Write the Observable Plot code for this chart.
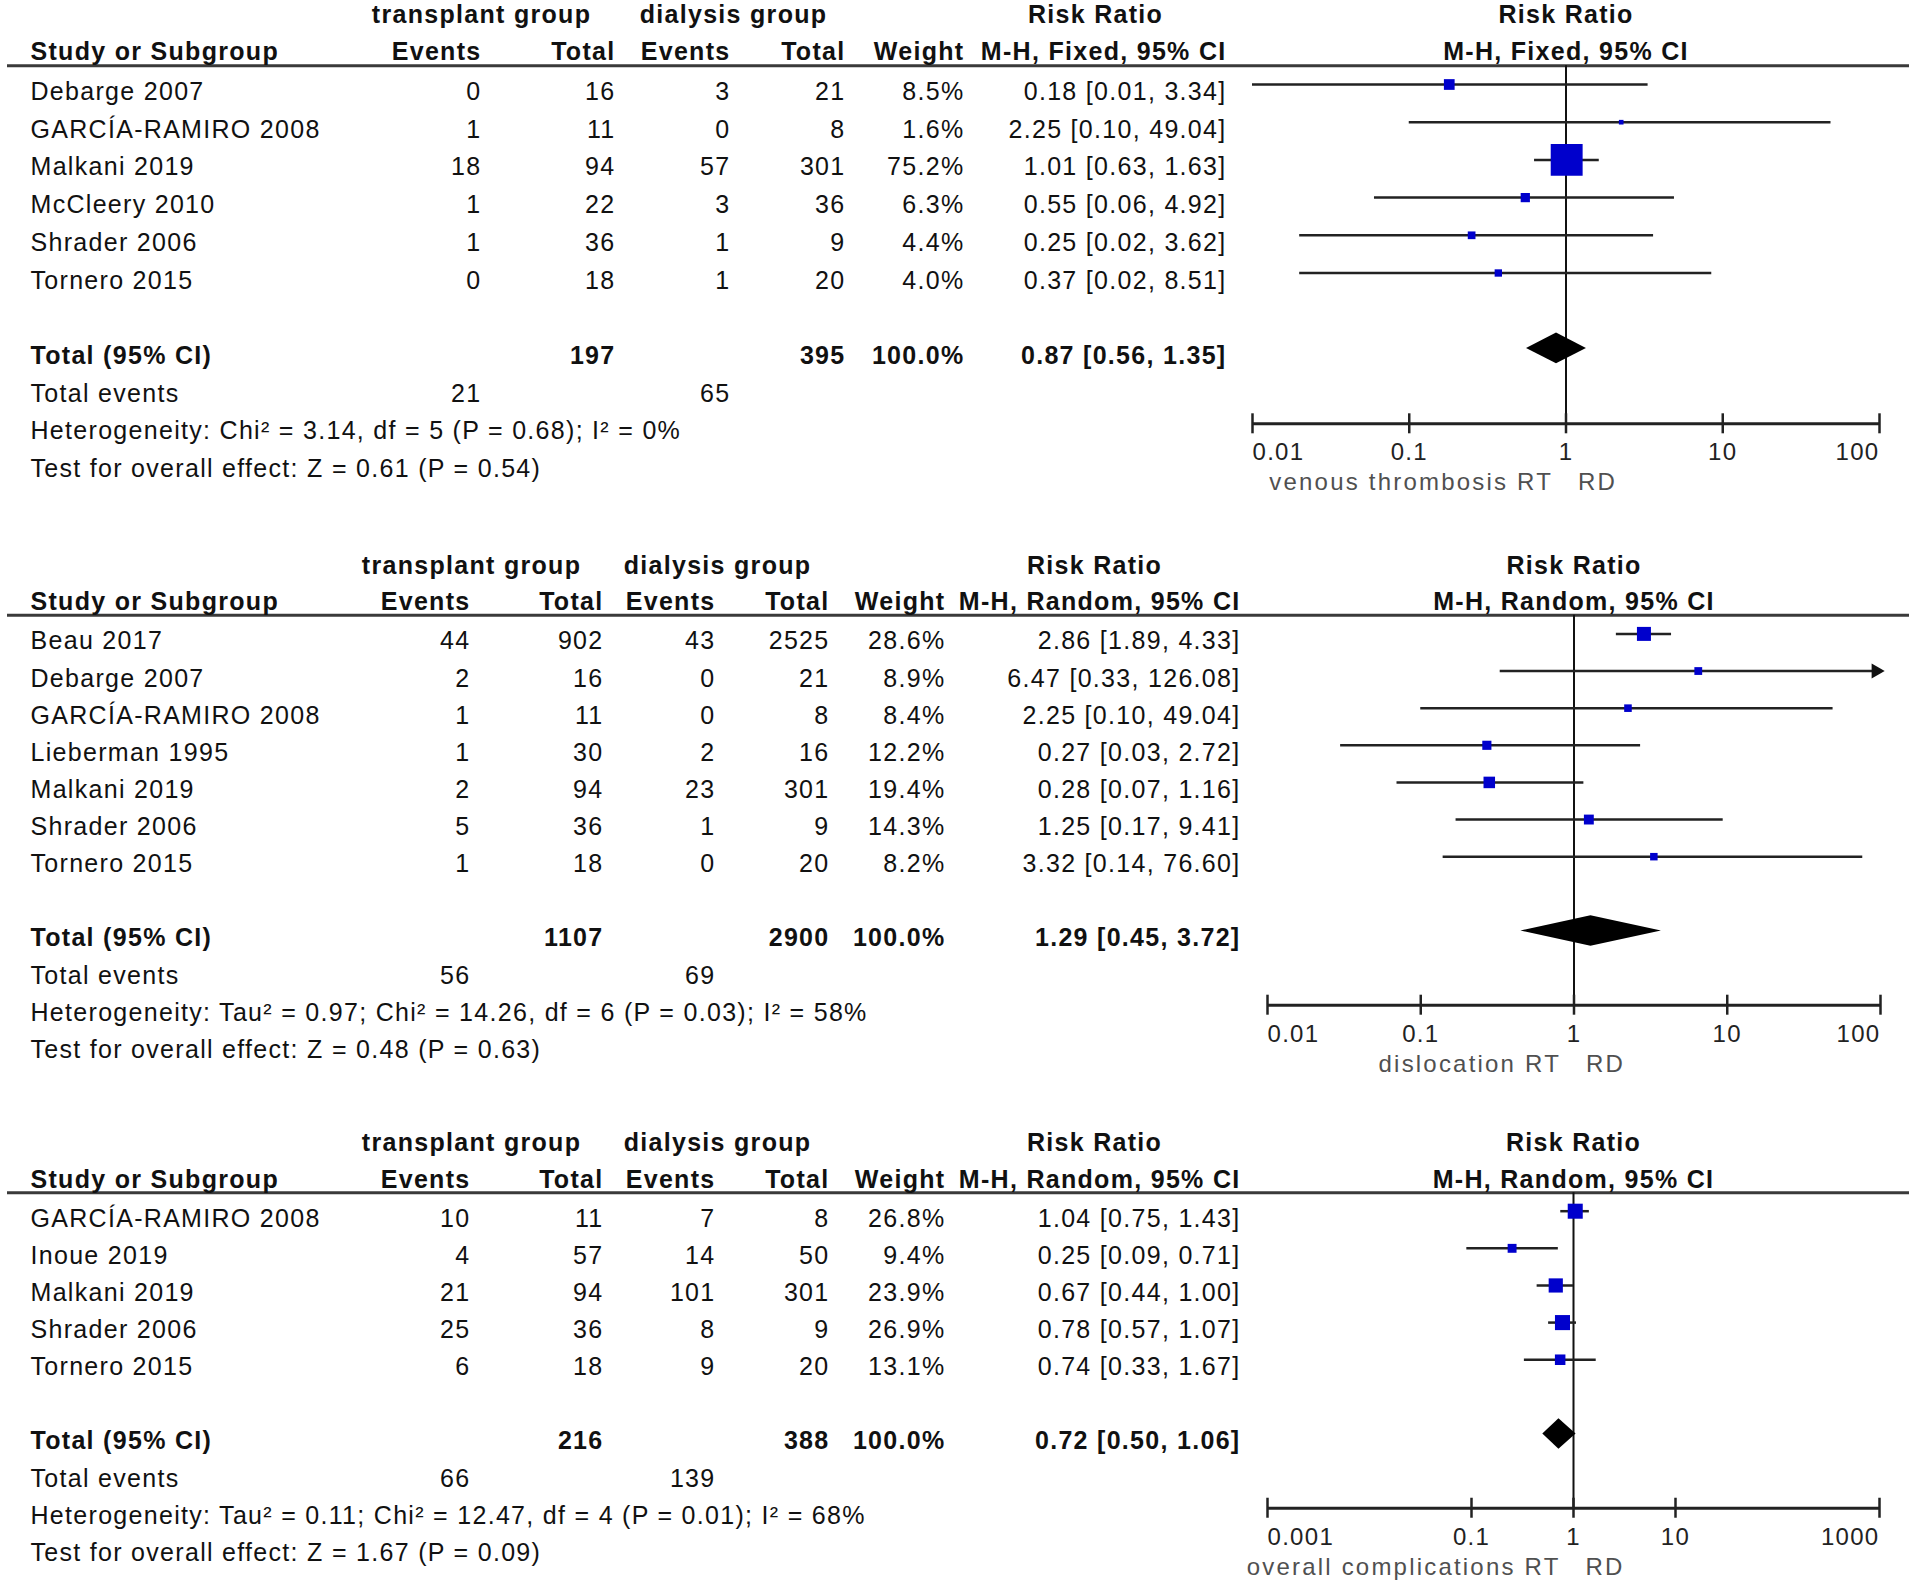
<!DOCTYPE html>
<html>
<head>
<meta charset="utf-8">
<script src="https://cdn.jsdelivr.net/npm/d3@7"></script>
<script src="https://cdn.jsdelivr.net/npm/@observablehq/plot@0.6"></script>
<style>
html, body { margin: 0; padding: 0; background: #fff; }
#chart { width: 1909px; }
#chart svg { display: block; }
#chart svg text { letter-spacing: 1.3px; }
#chart g[aria-description="caption"] text { letter-spacing: 2.2px; }
</style>
</head>
<body>
<div id="chart"></div>
<script>
// ---------- shared labels ----------
const groupHeaders = ["transplant group", "dialysis group"];
const columnHeaders = ["Study or Subgroup", "Events", "Total", "Events", "Total", "Weight"];
const effectHeader = "Risk Ratio";
const totalLabels = ["Total (95% CI)", "Total events"];
const totalWeightLabel = "100.0%";

// ---------- panel 1: venous thrombosis ----------
const vtStudies = ["Debarge 2007", "GARCÍA-RAMIRO 2008", "Malkani 2019", "McCleery 2010", "Shrader 2006", "Tornero 2015"];
const vtTxEvents = [0, 1, 18, 1, 1, 0];
const vtTxTotal = [16, 11, 94, 22, 36, 18];
const vtDiEvents = [3, 0, 57, 3, 1, 1];
const vtDiTotal = [21, 8, 301, 36, 9, 20];
const vtWeight = [8.5, 1.6, 75.2, 6.3, 4.4, 4.0];
const vtRR = [0.18, 2.25, 1.01, 0.55, 0.25, 0.37];
const vtLower = [0.01, 0.10, 0.63, 0.06, 0.02, 0.02];
const vtUpper = [3.34, 49.04, 1.63, 4.92, 3.62, 8.51];
const vtTotals = [197, 395];
const vtTotalEvents = [21, 65];
const vtPooled = [0.87, 0.56, 1.35];
const vtMethod = "M-H, Fixed, 95% CI";
const vtHeterogeneity = "Heterogeneity: Chi² = 3.14, df = 5 (P = 0.68); I² = 0%";
const vtOverall = "Test for overall effect: Z = 0.61 (P = 0.54)";
const vtTicks = [0.01, 0.1, 1, 10, 100];
const vtCaption = ["venous thrombosis RT", "RD"];

// ---------- panel 2: dislocation ----------
const dlStudies = ["Beau 2017", "Debarge 2007", "GARCÍA-RAMIRO 2008", "Lieberman 1995", "Malkani 2019", "Shrader 2006", "Tornero 2015"];
const dlTxEvents = [44, 2, 1, 1, 2, 5, 1];
const dlTxTotal = [902, 16, 11, 30, 94, 36, 18];
const dlDiEvents = [43, 0, 0, 2, 23, 1, 0];
const dlDiTotal = [2525, 21, 8, 16, 301, 9, 20];
const dlWeight = [28.6, 8.9, 8.4, 12.2, 19.4, 14.3, 8.2];
const dlRR = [2.86, 6.47, 2.25, 0.27, 0.28, 1.25, 3.32];
const dlLower = [1.89, 0.33, 0.10, 0.03, 0.07, 0.17, 0.14];
const dlUpper = [4.33, 126.08, 49.04, 2.72, 1.16, 9.41, 76.60];
const dlTotals = [1107, 2900];
const dlTotalEvents = [56, 69];
const dlPooled = [1.29, 0.45, 3.72];
const dlMethod = "M-H, Random, 95% CI";
const dlHeterogeneity = "Heterogeneity: Tau² = 0.97; Chi² = 14.26, df = 6 (P = 0.03); I² = 58%";
const dlOverall = "Test for overall effect: Z = 0.48 (P = 0.63)";
const dlTicks = [0.01, 0.1, 1, 10, 100];
const dlCaption = ["dislocation RT", "RD"];

// ---------- panel 3: overall complications ----------
const ocStudies = ["GARCÍA-RAMIRO 2008", "Inoue 2019", "Malkani 2019", "Shrader 2006", "Tornero 2015"];
const ocTxEvents = [10, 4, 21, 25, 6];
const ocTxTotal = [11, 57, 94, 36, 18];
const ocDiEvents = [7, 14, 101, 8, 9];
const ocDiTotal = [8, 50, 301, 9, 20];
const ocWeight = [26.8, 9.4, 23.9, 26.9, 13.1];
const ocRR = [1.04, 0.25, 0.67, 0.78, 0.74];
const ocLower = [0.75, 0.09, 0.44, 0.57, 0.33];
const ocUpper = [1.43, 0.71, 1.00, 1.07, 1.67];
const ocTotals = [216, 388];
const ocTotalEvents = [66, 139];
const ocPooled = [0.72, 0.50, 1.06];
const ocMethod = "M-H, Random, 95% CI";
const ocHeterogeneity = "Heterogeneity: Tau² = 0.11; Chi² = 12.47, df = 4 (P = 0.01); I² = 68%";
const ocOverall = "Test for overall effect: Z = 1.67 (P = 0.09)";
const ocTicks = [0.001, 0.1, 1, 10, 1000];
const ocCaption = ["overall complications RT", "RD"];

// ---------- layout ----------
const FONT = "'Liberation Sans', Arial, Helvetica, sans-serif";
const layout1 = {height: 520, row0: 84, step: 37.7, xRange: [1252, 1879], rMax: 18,
  study: 30, e1: 481, n1: 615, e2: 730, n2: 845, w: 964, ci: 1226, txHead: 481, diHead: 733, rrHead: 1095};
const layout2 = {height: 580, row0: 113.4, step: 37.13, xRange: [1267, 1880], rMax: 7.9,
  study: 30, e1: 470, n1: 603, e2: 715, n2: 829, w: 945, ci: 1240, txHead: 471, diHead: 717, rrHead: 1094};
const layout3 = {height: 489, row0: 110.7, step: 37.13, xRange: [1267, 1879], rMax: 8.5,
  study: 30, e1: 470, n1: 603, e2: 715, n2: 829, w: 945, ci: 1240, txHead: 471, diHead: 717, rrHead: 1094};

function panel(P, L) {
  const n = P.studies.length;
  const rows = P.studies.map((study, i) => ({
    row: i, study, txE: P.txEvents[i], txN: P.txTotal[i], diE: P.diEvents[i], diN: P.diTotal[i],
    w: P.weight[i], rr: P.rr[i], lo: P.lower[i], hi: P.upper[i]
  }));
  const [pRR, pLo, pHi] = P.pooled;
  const totRow = n + 1, evRow = n + 2, hetRow = n + 3, testRow = n + 4, axisRow = n + 3;
  const h1 = -2.03, h2 = -1.05, lineRow = -0.5;
  const xmin = P.ticks[0], xmax = P.ticks[P.ticks.length - 1];
  const ci = (a, b, c) => `${a.toFixed(2)} [${b.toFixed(2)}, ${c.toFixed(2)}]`;
  const base = {fontFamily: FONT, fontSize: 25, fill: "#111"};
  const bold = {fontWeight: "bold"};
  const T = (data, x, anchor, text, extra = {}) =>
    Plot.text(data, {frameAnchor: "left", dx: x, y: "row", dy: 7.5, text, textAnchor: anchor, ...base, ...extra});
  const one = (row, s) => [{row, s}];
  const diamond = [
    {y: totRow - 0.41, x1: pRR, x2: pRR},
    {y: totRow, x1: pLo, x2: pHi},
    {y: totRow + 0.41, x1: pRR, x2: pRR}
  ];
  const tickText = {y: () => axisRow, x: d => d, dy: 29, text: d => String(d), fontFamily: FONT, fontSize: 24, fill: "#222"};
  const tickHalf = 10 / L.step;

  return Plot.plot({
    width: 1909,
    height: L.height,
    margin: 0,
    style: {background: "#fff", overflow: "visible"},
    x: {type: "log", domain: [xmin, xmax], range: L.xRange, clamp: true, axis: null},
    y: {domain: [0, 1], range: [L.row0, L.row0 + L.step], axis: null},
    r: {type: "sqrt", domain: [0, d3.max(P.weight)], range: [0, L.rMax]},
    marks: [
      // header rule
      Plot.ruleY([lineRow], {stroke: "#3a3a3a", strokeWidth: 3, insetLeft: 7}),
      // header row 1
      T(one(h1, groupHeaders[0]), L.txHead, "middle", "s", bold),
      T(one(h1, groupHeaders[1]), L.diHead, "middle", "s", bold),
      T(one(h1, effectHeader), L.rrHead, "middle", "s", bold),
      // header row 2
      T(one(h2, columnHeaders[0]), L.study, "start", "s", bold),
      T(one(h2, columnHeaders[1]), L.e1, "end", "s", bold),
      T(one(h2, columnHeaders[2]), L.n1, "end", "s", bold),
      T(one(h2, columnHeaders[3]), L.e2, "end", "s", bold),
      T(one(h2, columnHeaders[4]), L.n2, "end", "s", bold),
      T(one(h2, columnHeaders[5]), L.w, "end", "s", bold),
      T(one(h2, P.method), L.ci, "end", "s", bold),
      // forest headers, centred on the line of no effect
      Plot.text([{row: h1, s: effectHeader}, {row: h2, s: P.method}],
        {x: () => 1, y: "row", dy: 7.5, text: "s", textAnchor: "middle", ...base, ...bold}),
      // study rows
      T(rows, L.study, "start", "study"),
      T(rows, L.e1, "end", d => String(d.txE)),
      T(rows, L.n1, "end", d => String(d.txN)),
      T(rows, L.e2, "end", d => String(d.diE)),
      T(rows, L.n2, "end", d => String(d.diN)),
      T(rows, L.w, "end", d => d.w.toFixed(1) + "%"),
      T(rows, L.ci, "end", d => ci(d.rr, d.lo, d.hi)),
      // totals
      T(one(totRow, totalLabels[0]), L.study, "start", "s", bold),
      T(one(totRow, String(P.totals[0])), L.n1, "end", "s", bold),
      T(one(totRow, String(P.totals[1])), L.n2, "end", "s", bold),
      T(one(totRow, totalWeightLabel), L.w, "end", "s", bold),
      T(one(totRow, ci(pRR, pLo, pHi)), L.ci, "end", "s", bold),
      T(one(evRow, totalLabels[1]), L.study, "start", "s"),
      T(one(evRow, String(P.totalEvents[0])), L.e1, "end", "s"),
      T(one(evRow, String(P.totalEvents[1])), L.e2, "end", "s"),
      T(one(hetRow, P.heterogeneity), L.study, "start", "s"),
      T(one(testRow, P.overall), L.study, "start", "s"),
      // forest plot
      Plot.ruleX([1], {y1: lineRow, y2: axisRow, stroke: "#111", strokeWidth: 2}),
      Plot.ruleY(rows, {y: "row", x1: "lo", x2: "hi", stroke: "#222", strokeWidth: 2.5}),
      Plot.dot(rows.filter(d => d.hi > xmax), {x: "hi", y: "row", symbol: "triangle", rotate: 90, r: 5.6, fill: "#111", dx: -4.5}),
      Plot.dot(rows, {x: "rr", y: "row", r: "w", symbol: "square", fill: "#0000cc"}),
      Plot.areaX(diamond, {y: "y", x1: "x1", x2: "x2", fill: "#000"}),
      // axis
      Plot.ruleY([axisRow], {x1: xmin, x2: xmax, stroke: "#222", strokeWidth: 3}),
      Plot.ruleX(P.ticks, {x: d => d, y1: axisRow - tickHalf, y2: axisRow + tickHalf, stroke: "#222", strokeWidth: 2.5}),
      Plot.text(P.ticks.slice(0, 1), {...tickText, textAnchor: "start"}),
      Plot.text(P.ticks.slice(1, -1), {...tickText, textAnchor: "middle"}),
      Plot.text(P.ticks.slice(-1), {...tickText, textAnchor: "end"}),
      // favours captions
      Plot.text([P.caption[0]], {x: () => 1, y: () => axisRow, dy: 59, dx: -13, text: d => d, textAnchor: "end",
        fontFamily: FONT, fontSize: 24, fill: "#505050", ariaDescription: "caption"}),
      Plot.text([P.caption[1]], {x: () => 1, y: () => axisRow, dy: 59, dx: 12, text: d => d, textAnchor: "start",
        fontFamily: FONT, fontSize: 24, fill: "#505050", ariaDescription: "caption"})
    ]
  });
}

const chart = document.getElementById("chart");
chart.append(panel({
  studies: vtStudies, txEvents: vtTxEvents, txTotal: vtTxTotal, diEvents: vtDiEvents, diTotal: vtDiTotal,
  weight: vtWeight, rr: vtRR, lower: vtLower, upper: vtUpper, totals: vtTotals, totalEvents: vtTotalEvents,
  pooled: vtPooled, method: vtMethod, heterogeneity: vtHeterogeneity, overall: vtOverall, ticks: vtTicks, caption: vtCaption
}, layout1));
chart.append(panel({
  studies: dlStudies, txEvents: dlTxEvents, txTotal: dlTxTotal, diEvents: dlDiEvents, diTotal: dlDiTotal,
  weight: dlWeight, rr: dlRR, lower: dlLower, upper: dlUpper, totals: dlTotals, totalEvents: dlTotalEvents,
  pooled: dlPooled, method: dlMethod, heterogeneity: dlHeterogeneity, overall: dlOverall, ticks: dlTicks, caption: dlCaption
}, layout2));
chart.append(panel({
  studies: ocStudies, txEvents: ocTxEvents, txTotal: ocTxTotal, diEvents: ocDiEvents, diTotal: ocDiTotal,
  weight: ocWeight, rr: ocRR, lower: ocLower, upper: ocUpper, totals: ocTotals, totalEvents: ocTotalEvents,
  pooled: ocPooled, method: ocMethod, heterogeneity: ocHeterogeneity, overall: ocOverall, ticks: ocTicks, caption: ocCaption
}, layout3));
</script>
</body>
</html>
